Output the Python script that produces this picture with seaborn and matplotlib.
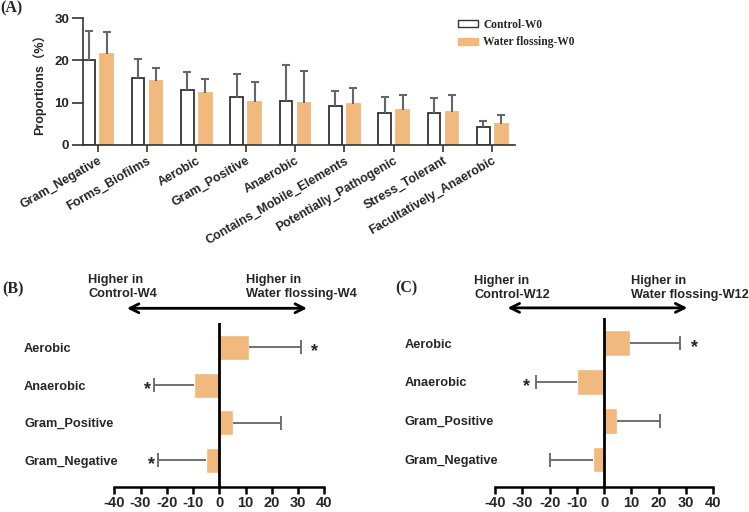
import matplotlib
matplotlib.use('Agg')
import matplotlib.pyplot as plt
from matplotlib.patches import Patch
import numpy as np
import pandas as pd
import seaborn as sns

# panel A: proportions at W0
categories_a = ['Gram_Negative', 'Forms_Biofilms', 'Aerobic', 'Gram_Positive', 'Anaerobic',
                'Contains_Mobile_Elements', 'Potentially_Pathogenic', 'Stress_Tolerant',
                'Facultatively_Anaerobic']
groups_a = ['Control-W0', 'Water flossing-W0']
control_w0 = [20.2, 15.9, 13.0, 11.3, 10.5, 9.1, 7.6, 7.5, 4.2]
control_w0_err = [6.8, 4.4, 4.2, 5.4, 8.4, 3.6, 3.7, 3.7, 1.5]
flossing_w0 = [21.5, 15.1, 12.3, 10.1, 10.0, 9.8, 8.3, 7.9, 5.0]
flossing_w0_err = [5.3, 3.2, 3.3, 4.9, 7.4, 3.6, 3.5, 3.8, 2.2]

# panels B and C: differences (water flossing - control)
categories_bc = ['Aerobic', 'Anaerobic', 'Gram_Positive', 'Gram_Negative']
diff_w4 = [11.2, -9.5, 5.1, -5.2]
diff_w4_err = [20.0, 15.3, 18.4, 18.3]
sig_w4 = [True, True, False, True]
diff_w12 = [9.5, -10.0, 4.6, -4.0]
diff_w12_err = [18.2, 14.8, 15.7, 15.9]
sig_w12 = [True, True, False, False]

orange = '#F2B97E'
err_grey = '#666666'

sns.set_theme(style='ticks')
plt.rcParams['font.family'] = ['Liberation Sans', 'Noto Sans CJK SC', 'DejaVu Sans']
plt.rcParams['font.weight'] = 'bold'
plt.rcParams['axes.unicode_minus'] = False
serif = 'Liberation Serif'

fig = plt.figure(figsize=(7.49, 5.12), dpi=100)

# ---------------- (A) ----------------
ax_a = fig.add_axes([0.1108, 0.7168, 0.5768, 0.248])
df_a = pd.DataFrame({
    'category': categories_a * 2,
    'group': [groups_a[0]] * len(categories_a) + [groups_a[1]] * len(categories_a),
    'value': control_w0 + flossing_w0,
})
sns.barplot(data=df_a, x='category', y='value', hue='group', hue_order=groups_a,
            order=categories_a, palette=['white', orange], saturation=1,
            width=0.73, gap=0.3, errorbar=None, legend=False,
            edgecolor='#333333', linewidth=1.3, ax=ax_a)
for p in ax_a.containers[1]:
    p.set_edgecolor(orange)

# upper error bars only
for cont, errs in zip(ax_a.containers, [control_w0_err, flossing_w0_err]):
    xs = np.array([p.get_x() + p.get_width() / 2 for p in cont])
    hs = np.array([p.get_height() for p in cont])
    tops = hs + np.array(errs)
    ax_a.vlines(xs, hs, tops, color=err_grey, lw=1.5)
    ax_a.plot(xs, tops, ls='none', marker='_', ms=6, mew=1.5, color=err_grey)

ax_a.set_xlim(-0.30, 8.46)
ax_a.set_ylim(0, 30)
ax_a.set_yticks([0, 10, 20, 30])
ax_a.set_xlabel('')
ax_a.set_ylabel('Proportions（%）', fontsize=9, fontweight='bold', labelpad=6)
sns.despine(ax=ax_a)
for s in ['left', 'bottom']:
    ax_a.spines[s].set_color('#333333')
    ax_a.spines[s].set_linewidth(1.2)
ax_a.tick_params(axis='y', length=8, width=1.2, color='#333333', pad=2, labelsize=9.5)
ax_a.tick_params(axis='x', length=5, width=1.2, color='#333333', pad=2, labelsize=9)
plt.setp(ax_a.get_xticklabels(), rotation=30, ha='right', rotation_mode='anchor',
         fontweight='bold')
plt.setp(ax_a.get_yticklabels(), fontweight='bold')

handles = [Patch(facecolor='white', edgecolor='#333333', linewidth=1.0),
           Patch(facecolor=orange, edgecolor=orange)]
fig.legend(handles, groups_a, loc='upper left', bbox_to_anchor=(0.6115, 0.963),
           frameon=False, borderpad=0, borderaxespad=0, handlelength=1.7,
           handleheight=0.55, handletextpad=0.5, labelspacing=0.45,
           prop={'family': serif, 'weight': 'bold', 'size': 8.3})

fig.text(0.001, 1 - 8 / 512, '(A)', family=serif, fontweight='bold', fontsize=11.5,
         va='center', ha='left')


# ---------------- (B), (C) ----------------
def diff_panel(rect, values, errs, sig, left_txt, right_txt, arrow_y, txt_y,
               arrow_x, txt_x, star_off):
    ax = fig.add_axes(rect)
    df = pd.DataFrame({'category': categories_bc, 'diff': values})
    sns.barplot(data=df, x='diff', y='category', orient='h', color=orange,
                saturation=1, width=0.66, errorbar=None, ax=ax)
    ys = np.array([p.get_y() + p.get_height() / 2 for p in ax.patches])
    vals = np.array(values)
    errs = np.array(errs)
    ends = vals + np.sign(vals) * errs
    ax.hlines(ys, vals, ends, color=err_grey, lw=1.3)
    ax.plot(ends, ys, ls='none', marker='|', ms=10, mew=1.3, color=err_grey)
    for v, e, y, s in zip(vals, ends, ys, sig):
        if s:
            sign = 1 if v > 0 else -1
            off = star_off[0] if v > 0 else star_off[1]
            ax.text(e + sign * off, y + 0.12, '*', ha='center', va='center',
                    fontsize=13, fontweight='bold')
    ax.axvline(0, color='black', lw=2)
    ax.set_xlim(-40, 40)
    ax.set_ylim(3.70, -0.65)
    ax.set_xticks(range(-40, 41, 10))
    ax.set_xlabel('')
    ax.set_ylabel('')
    for s in ['left', 'top', 'right']:
        ax.spines[s].set_visible(False)
    ax.spines['bottom'].set_linewidth(1.8)
    ax.spines['bottom'].set_color('black')
    ax.tick_params(axis='x', length=5, width=1.8, color='black', labelsize=10.5, pad=2)
    ax.tick_params(axis='y', length=0, pad=65, labelsize=9.2)
    plt.setp(ax.get_yticklabels(), ha='left', fontweight='bold')
    plt.setp(ax.get_xticklabels(), fontweight='bold')
    ax.annotate('', xy=(arrow_x[1], arrow_y), xytext=(arrow_x[0], arrow_y),
                xycoords=('data', 'axes fraction'), annotation_clip=False,
                arrowprops=dict(arrowstyle='<->', lw=2, color='black',
                                mutation_scale=16, shrinkA=0, shrinkB=0))
    ax.text(txt_x[0], txt_y, left_txt, transform=ax.get_xaxis_transform(),
            ha='left', va='center', fontsize=9.2, fontweight='bold', linespacing=1.25)
    ax.text(txt_x[1], txt_y, right_txt, transform=ax.get_xaxis_transform(),
            ha='left', va='center', fontsize=9.2, fontweight='bold', linespacing=1.25)
    return ax


diff_panel([0.1526, 0.0494, 0.2804, 0.3197], diff_w4, diff_w4_err, sig_w4,
           'Higher in\nControl-W4', 'Higher in\nWater flossing-W4',
           arrow_y=1.09, txt_y=1.22, arrow_x=(-35.2, 33.4), txt_x=(-49.9, 10.2),
           star_off=(5.0, 2.5))
diff_panel([0.6609, 0.0494, 0.2914, 0.3295], diff_w12, diff_w12_err, sig_w12,
           'Higher in\nControl-W12', 'Higher in\nWater flossing-W12',
           arrow_y=1.06, txt_y=1.18, arrow_x=(-35.4, 30.5), txt_x=(-47.7, 9.8),
           star_off=(5.5, 3.5))

fig.text(0.003, 1 - 289.5 / 512, '(B)', family=serif, fontweight='bold', fontsize=11.5,
         va='center', ha='left')
fig.text(395 / 749, 1 - 288 / 512, '(C)', family=serif, fontweight='bold', fontsize=11.5,
         va='center', ha='left')

fig.savefig('out.png', dpi=100)
